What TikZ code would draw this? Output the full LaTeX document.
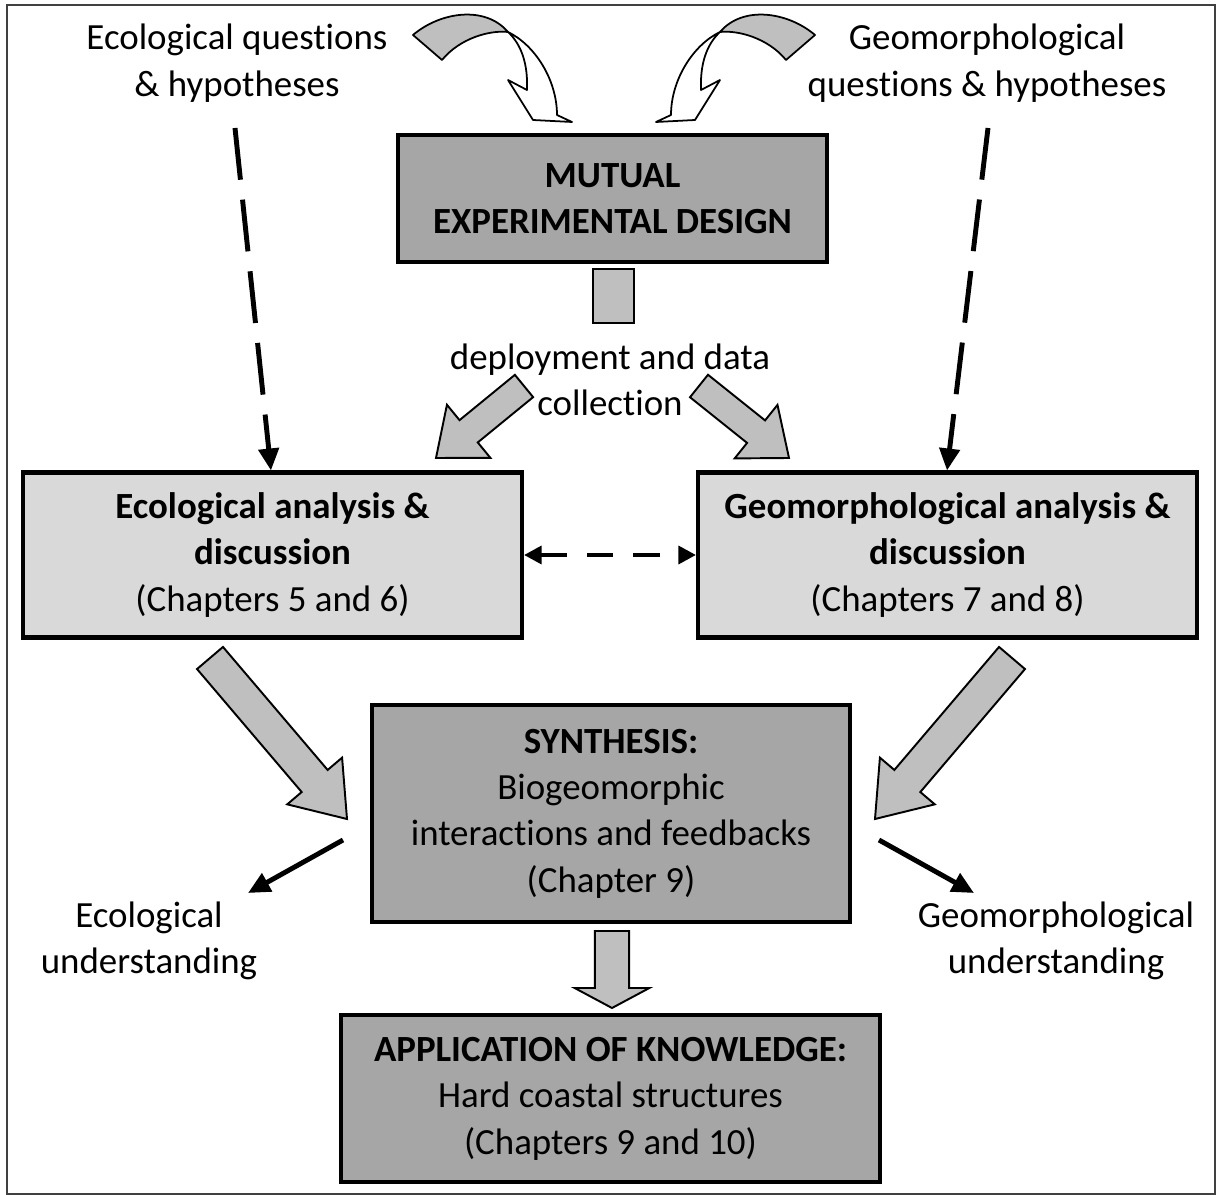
\documentclass[tikz,border=0pt]{standalone}
\usepackage{fontspec}
\setmainfont[Ligatures=NoCommon]{Carlito}
\usetikzlibrary{arrows.meta,calc,positioning}

\definecolor{boxdark}{HTML}{A6A6A6}
\definecolor{boxlight}{HTML}{D9D9D9}
\definecolor{arrowgray}{HTML}{BFBFBF}
\newcommand{\bodyfont}{\fontsize{21pt}{26.4pt}\selectfont}

\tikzset{
  darkbox/.style={draw,line width=2.5pt,fill=boxdark,align=center,inner sep=0pt},
  lightbox/.style={draw,line width=2.3pt,fill=boxlight,align=center,inner sep=0pt},
  txt/.style={align=center,inner sep=0pt},
  stub/.style={draw,line width=1.1pt,fill=arrowgray,minimum width=0.82cm,minimum height=1.08cm,inner sep=0pt},
  fatarrow/.style={draw,fill=arrowgray,line width=1.1pt,line join=miter},
  dasharrow/.style={line width=2.8pt,dash pattern=on 29.6pt off 11.4pt,-{Triangle[length=12.5pt,width=11.4pt]}},
  dashboth/.style={line width=2.8pt,dash pattern=on 15pt off 11.4pt,{Triangle[length=10pt,width=10pt]}-{Triangle[length=10pt,width=10pt]}},
  solidarrow/.style={line width=2.8pt,-{Triangle[length=12.5pt,width=11.4pt]}},
  twistarrow/.pic={
    \draw[line width=1pt,fill=arrowgray,line join=round] (413,35) .. controls (440,12) and (485,5) .. (508,32)
      .. controls (490,30) and (460,38) .. (442,60) -- cycle;
    \draw[line width=1pt,fill=white,line join=round] (508,32) .. controls (535,45) and (557,80) .. (557,115)
      -- (572,122) -- (533,120) -- (508,80) -- (527,90) .. controls (528,65) and (522,45) .. (508,32) -- cycle;
  }
}

% #1 tail, #2 tip, #3 half shaft, #4 half head, #5 head length
\newcommand{\fatarrow}[5]{%
  \coordinate (fa-b) at ($(#2)!#5!(#1)$);
  \draw[fatarrow] ($(#1)!#3!90:(#2)$) -- ($(fa-b)!#3!-90:(#1)$) -- ($(fa-b)!#4!-90:(#1)$)
    -- (#2) -- ($(fa-b)!#4!90:(#1)$) -- ($(fa-b)!#3!90:(#1)$) -- ($(#1)!#3!-90:(#2)$) -- cycle;}

\begin{document}
\begin{tikzpicture}[x=0.02cm,y=-0.02cm,every node/.style={font=\bodyfont}]
\useasboundingbox (0,0) rectangle (1217,1195);
\draw[line width=1.2pt,black!75] (7,5) rectangle (1215,1194);

\node[txt] (ecoq) at (237,63) {Ecological questions\\\& hypotheses};
\node[txt] (geoq) at (987,63) {Geomorphological\\questions \& hypotheses};
\pic at (0,0) {twistarrow};
\pic[xscale=-1] at (1228,0) {twistarrow};

\node[darkbox,minimum width=8.58cm,minimum height=2.54cm] (design) at (612.5,198.5)
  {\textbf{MUTUAL}\\\textbf{EXPERIMENTAL DESIGN}};
\node[stub] (deploybar) at (613.5,296) {};
\node[txt] (deploy) at (610,380) {deployment and data\\collection};

\node[lightbox,minimum width=9.98cm,minimum height=3.3cm] (ecoan) at (272.5,555)
  {\textbf{Ecological analysis \&}\\\textbf{discussion}\\(Chapters 5 and 6)};
\node[lightbox,minimum width=9.98cm,minimum height=3.3cm] (geoan) at (947.5,555)
  {\textbf{Geomorphological analysis \&}\\\textbf{discussion}\\(Chapters 7 and 8)};

\node[darkbox,minimum width=9.56cm,minimum height=4.34cm] (synth) at (611,813.5)
  {\textbf{SYNTHESIS:}\\Biogeomorphic\\interactions and feedbacks\\(Chapter 9)};
\node[txt] (ecou) at (149,941) {Ecological\\understanding};
\node[txt] (geou) at (1056,941) {Geomorphological\\understanding};

\node[darkbox,minimum width=10.78cm,minimum height=3.34cm] (app) at (610.5,1098.5)
  {\textbf{APPLICATION OF KNOWLEDGE:}\\Hard coastal structures\\(Chapters 9 and 10)};

\coordinate (ecoqfoot) at (235,128);
\coordinate (geoqfoot) at (988,128);
\draw[dasharrow] (ecoqfoot) -- ([xshift=5cm]ecoan.north west);
\draw[dasharrow] (geoqfoot) -- ([xshift=-5.04cm]geoan.north east);
\draw[dashboth] (ecoan.east) -- (geoan.west);

\coordinate (depl) at (524,386); \coordinate (deplend) at (436,458);
\coordinate (depr) at (699,386); \coordinate (deprend) at (789,458);
\fatarrow{depl}{deplend}{8.2pt}{19.5pt}{24pt}
\fatarrow{depr}{deprend}{8.2pt}{19.5pt}{24pt}

\coordinate (ecoout) at (210,658); \coordinate (synthinl) at (347,819);
\coordinate (geoout) at (1012,658); \coordinate (synthinr) at (875,819);
\fatarrow{ecoout}{synthinl}{9.7pt}{20.5pt}{28.4pt}
\fatarrow{geoout}{synthinr}{9.7pt}{20.5pt}{28.4pt}

\coordinate (synthl) at (343,840); \coordinate (ecouin) at (248,893);
\coordinate (synthr) at (879,840); \coordinate (geouin) at (974,893);
\draw[solidarrow] (synthl) -- (ecouin);
\draw[solidarrow] (synthr) -- (geouin);

\coordinate (synthout) at (612,931); \coordinate (appin) at (612,1008);
\fatarrow{synthout}{appin}{9.7pt}{21.3pt}{11.4pt}
\end{tikzpicture}
\end{document}
